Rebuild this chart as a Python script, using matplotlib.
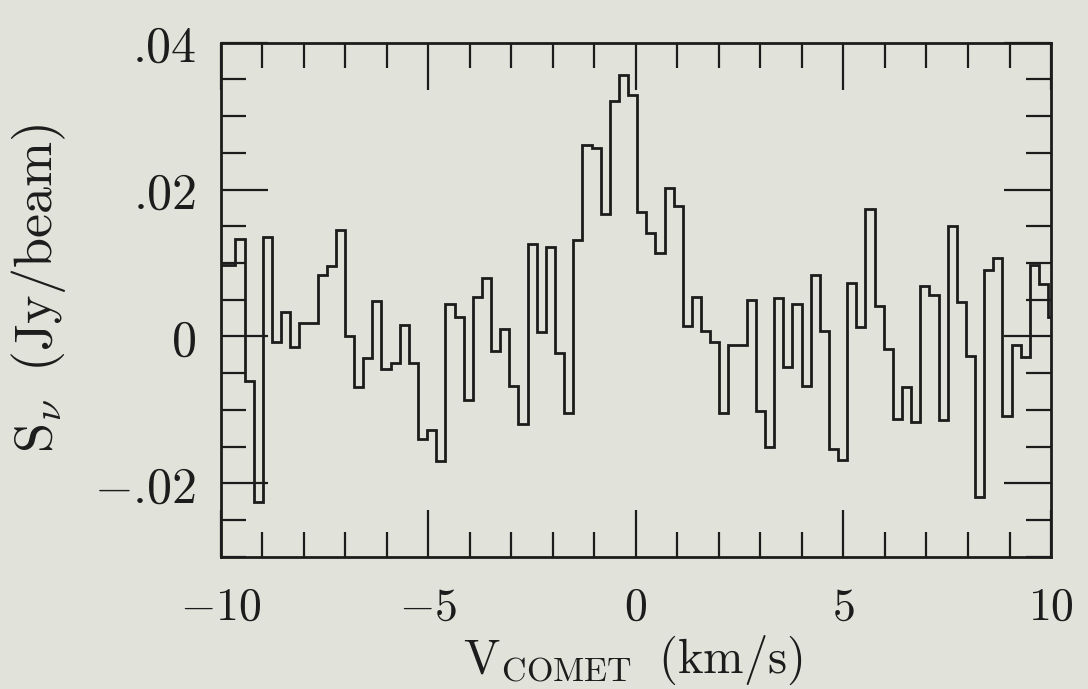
import matplotlib
matplotlib.use("Agg")
import matplotlib.pyplot as plt
import numpy as np
from matplotlib.ticker import MultipleLocator, FixedLocator, FixedFormatter

plt.rcParams['mathtext.fontset'] = 'cm'

# channel grid (km/s): first left edge and channel width
v_first_edge = -10.09
dv = 0.22

# flux density per channel (Jy/beam), left to right
flux = [0.0097, 0.0097, 0.0133, -0.0061, -0.0225, 0.0136, -0.0007, 0.0033,
        -0.0015, 0.0018, 0.0018, 0.0084, 0.0096, 0.0145, 0.0000, -0.0069,
        -0.0030, 0.0048, -0.0044, -0.0036, 0.0016, -0.0036, -0.0140, -0.0127,
        -0.0170, 0.0044, 0.0027, -0.0086, 0.0054, 0.0080, -0.0020, 0.0010,
        -0.0067, -0.0119, 0.0126, 0.0006, 0.0122, -0.0022, -0.0104, 0.0131,
        0.0261, 0.0257, 0.0167, 0.0321, 0.0356, 0.0329, 0.0170, 0.0141,
        0.0114, 0.0202, 0.0178, 0.0014, 0.0054, 0.0007, -0.0007, -0.0104,
        -0.0011, -0.0011, 0.0049, -0.0102, -0.0150, 0.0052, -0.0042, 0.0044,
        -0.0067, 0.0084, 0.0008, -0.0153, -0.0168, 0.0073, 0.0013, 0.0174,
        0.0041, -0.0017, -0.0113, -0.0069, -0.0117, 0.0068, 0.0057, -0.0114,
        0.0150, 0.0047, -0.0026, -0.0219, 0.0091, 0.0107, -0.0108, -0.0011,
        -0.0028, 0.0097, 0.0071, 0.0026]

xticks = [-10, -5, 0, 5, 10]
xticklabels = [r'$-10$', r'$-5$', r'$0$', r'$5$', r'$10$']
yticks = [-0.02, 0.0, 0.02, 0.04]
# \hspace cancels the thin space mathtext puts after a leading dot
yticklabels = [r'$-.\hspace{-0.2}02$', r'$0$', r'$.\hspace{-0.2}02$', r'$.\hspace{-0.2}04$']

flux = np.array(flux)
edges = v_first_edge + dv * np.arange(len(flux) + 1)

bg = '#e1e2d9'
ink = '#1c1c1c'

fig = plt.figure(figsize=(10.88, 6.89), dpi=100, facecolor=bg)
ax = fig.add_axes([0.203, 0.192, 0.763, 0.746], facecolor=bg)

ax.stairs(flux, edges, baseline=None, color=ink, lw=2.0)

ax.set_xlim(-10, 10)
ax.set_ylim(-0.03, 0.04)

ax.xaxis.set_major_locator(FixedLocator(xticks))
ax.xaxis.set_major_formatter(FixedFormatter(xticklabels))
ax.xaxis.set_minor_locator(MultipleLocator(1))
ax.yaxis.set_major_locator(FixedLocator(yticks))
ax.yaxis.set_major_formatter(FixedFormatter(yticklabels))
ax.yaxis.set_minor_locator(MultipleLocator(0.005))

ax.tick_params(which='both', direction='in', top=True, right=True,
               color=ink, width=1.6)
ax.tick_params(which='major', length=34)
ax.tick_params(which='minor', length=18)
ax.tick_params(axis='x', which='major', labelsize=33, pad=20, labelcolor=ink)
ax.tick_params(axis='y', which='major', labelsize=36, pad=18, labelcolor=ink)

for s in ax.spines.values():
    s.set_linewidth(2.0)
    s.set_color(ink)

fig.text(0.035, 0.582, r'$\mathrm{S}_{\nu}\;\;(\mathrm{Jy/beam})$', rotation=90,
         ha='center', va='center', fontsize=39, color=ink)
fig.text(0.582, 0.042, r'$\mathrm{V}_{\mathrm{COMET}}\;\;(\mathrm{km/s})$',
         ha='center', va='center', fontsize=35, color=ink)

fig.savefig('out.png', dpi=100, facecolor=bg)
